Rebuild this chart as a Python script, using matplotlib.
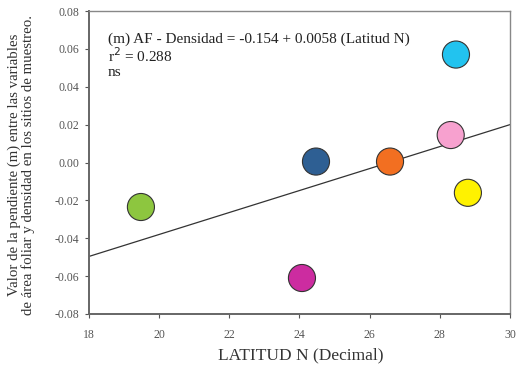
import matplotlib
matplotlib.use("Agg")
import matplotlib.pyplot as plt
import numpy as np

plt.rcParams['font.family'] = ['Liberation Serif', 'DejaVu Serif']

# Site latitudes and slope values
latitud = [19.48, 24.47, 26.58, 28.31, 28.46, 28.80, 24.07]
pendiente = [-0.0235, 0.0005, 0.0005, 0.0145, 0.0570, -0.0160, -0.0610]
colores = ['#8dc63f', '#2e5f93', '#f26f21', '#f7a1cf', '#22c3ef', '#fff200', '#cc2ca0']

# Regression coefficients
intercepto = -0.154
pendiente_reg = 0.0058

x_ticks = [18, 20, 22, 24, 26, 28, 30]
y_ticks = [-0.08, -0.06, -0.04, -0.02, 0.00, 0.02, 0.04, 0.06, 0.08]

fig = plt.figure(figsize=(5.21, 3.72), dpi=100)
ax = fig.add_axes([89/521, 1 - 314/372, (510-89)/521, (314-11)/372])

xl = np.array([18, 30])
ax.plot(xl, intercepto + pendiente_reg * xl, color='#333333', lw=0.9, zorder=2)

ax.scatter(latitud, pendiente, s=380, c=colores, edgecolors='#333333',
           linewidths=0.8, zorder=3)

ax.set_xlim(18, 30)
ax.set_ylim(-0.08, 0.08)
ax.set_xticks(x_ticks)
ax.set_yticks(y_ticks)
ax.set_yticklabels([f"{v:.2f}" for v in y_ticks])
ax.tick_params(direction='out', length=3, width=0.8, colors='#555555',
               labelsize=8.5, labelcolor='#555555')
ax.tick_params(axis='x', pad=8)
ax.tick_params(axis='y', pad=4)

for s in ax.spines.values():
    s.set_color('#888888')
    s.set_linewidth(1.0)
ax.spines['left'].set_linewidth(1.4)
ax.spines['bottom'].set_linewidth(1.4)
ax.spines['left'].set_color('#666666')
ax.spines['bottom'].set_color('#666666')

fig.text(301/521, 1 - 355/372, 'LATITUD N (Decimal)', fontsize=12.5,
         color='#333333', ha='center', va='center')
fig.text(21/521, 1 - 165/372,
         'Valor de la pendiente (m) entre las variables\n'
         'de área foliar y densidad en los sitios de muestreo.',
         fontsize=10.7, color='#333333', rotation=90, ha='center',
         va='center', linespacing=1.0, multialignment='center')

ax.text(0.045, 0.93, '(m) AF - Densidad = -0.154 + 0.0058 (Latitud N)\n'
        r'r$^2$ = 0.288' '\nns', transform=ax.transAxes, fontsize=11,
        color='#222222', va='top', ha='left', linespacing=1.05)

fig.savefig('out.png', dpi=100)
